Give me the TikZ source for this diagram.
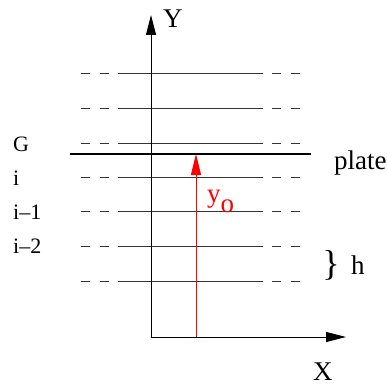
\documentclass[tikz,border=0pt]{standalone}
\usepackage{fontspec}
\setmainfont{Liberation Serif}
\usetikzlibrary{arrows.meta,positioning}

\begin{document}
\begin{tikzpicture}[x=1pt,y=-1pt,
  ax/.style={line width=1pt,-{Triangle[length=20pt,width=10pt]}},
  lev/.style={draw=black!80,line width=0.9pt},
  dsh/.style={draw=black!80,line width=0.9pt,dash pattern=on 9pt off 10pt},
  lbl/.style={anchor=base west,inner sep=0,font=\fontsize{22}{22}\selectfont},
  big/.style={inner sep=0,font=\fontsize{27}{27}\selectfont}]
 \useasboundingbox (0,0) rectangle (387,385);
 % levels
 \foreach \yy in {73,108,143,177,211,246,281}{
  \draw[dsh] (81,\yy) -- (112,\yy);
  \draw[lev] (118,\yy) -- (263,\yy);
  \draw[dsh] (272,\yy) -- (303,\yy);
 }
 % axes
 \coordinate (O) at (151,337);
 \coordinate (ytip) at (151,15);
 \coordinate (xtip) at (346,337);
 \draw[ax] (O) -- (ytip);
 \draw[ax] (O) -- (xtip);
 \node[big,anchor=base west] (ylab) at (163,28) {Y};
 \node[big,anchor=base west] (xlab) at (313,380) {X};
 % plate
 \coordinate (pl) at (70,154); \coordinate (pr) at (311,154);
 \draw[line width=2pt] (pl) -- (pr);
 \node[big,anchor=base west] (plate) at (334,169) {plate};
 % y_o
 \coordinate (r0) at (196,337); \coordinate (r1) at (196,154);
 \draw[red,line width=0.9pt,-{Triangle[length=21pt,width=10pt]}] (r0) -- (r1);
 \node[big,anchor=base west,red] (yo) at (207,202) {y\raisebox{-10pt}{o}};
 % level names
 \node[lbl] (G) at (13,151) {G};
 \node[lbl] (li) at (13,185) {i};
 \node[lbl] (li1) at (13,219) {i--1};
 \node[lbl] (li2) at (13,253) {i--2};
 % spacing
 \node[inner sep=0,font=\fontsize{36}{36}\selectfont] (br) at (331,265) {\}};
 \node[big,anchor=base west] (h) at (351,274) {h};
\end{tikzpicture}
\end{document}
